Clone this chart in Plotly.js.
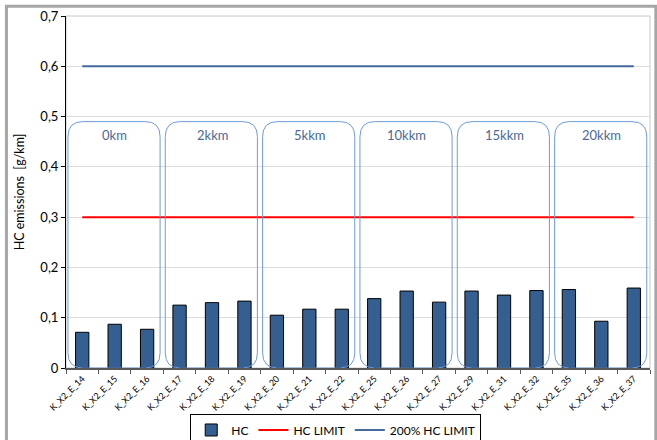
<!DOCTYPE html>
<html>
<head>
<meta charset="utf-8">
<script src="https://cdn.plot.ly/plotly-3.0.1.min.js"></script>
<style>
  html, body { margin: 0; padding: 0; background: #fff; }
  #chart { width: 657px; height: 440px; }
</style>
</head>
<body>
<div id="chart"></div>
<script>
// vehicles (x categories)
var vehicles = ['K_X2_E_14', 'K_X2_E_15', 'K_X2_E_16', 'K_X2_E_17', 'K_X2_E_18', 'K_X2_E_19',
                'K_X2_E_20', 'K_X2_E_21', 'K_X2_E_22', 'K_X2_E_25', 'K_X2_E_26', 'K_X2_E_27',
                'K_X2_E_29', 'K_X2_E_31', 'K_X2_E_32', 'K_X2_E_35', 'K_X2_E_36', 'K_X2_E_37'];
// HC emissions [g/km]
var hcValues = [0.071, 0.087, 0.077, 0.125, 0.130, 0.133,
                0.105, 0.117, 0.117, 0.138, 0.153, 0.131,
                0.153, 0.145, 0.154, 0.156, 0.093, 0.159];
var hcLimit = 0.3;
var hcLimit200 = 0.6;
// mileage groups, 3 vehicles each
var groupLabels = ['0km', '2kkm', '5kkm', '10kkm', '15kkm', '20kkm'];
var groupSize = 3;
var groupBoxTop = 0.49;

var barColor = '#355f91';
var limitColor = '#ff0000';
var limit200Color = '#44699b';
var boxColor = '#6f9cd8';

function flat(v) { return vehicles.map(function(){ return v; }); }

var traceHC = {
    type: 'bar',
    x: vehicles,
    y: hcValues,
    name: 'HC',
    width: 0.41,
    marker: { color: barColor, line: { color: '#000000', width: 1 } }
};
var traceLimit = {
    type: 'scatter',
    mode: 'lines',
    x: vehicles,
    y: flat(hcLimit),
    name: 'HC LIMIT',
    line: { color: limitColor, width: 2 }
};
var traceLimit200 = {
    type: 'scatter',
    mode: 'lines',
    x: vehicles,
    y: flat(hcLimit200),
    name: '200% HC LIMIT',
    line: { color: limit200Color, width: 2 }
};

// rounded group boxes
function roundedBox(x0, x1, y0, y1, rx, ry) {
    return 'M' + (x0 + rx) + ',' + y0 +
        ' L' + (x1 - rx) + ',' + y0 +
        ' Q' + x1 + ',' + y0 + ' ' + x1 + ',' + (y0 + ry) +
        ' L' + x1 + ',' + (y1 - ry) +
        ' Q' + x1 + ',' + y1 + ' ' + (x1 - rx) + ',' + y1 +
        ' L' + (x0 + rx) + ',' + y1 +
        ' Q' + x0 + ',' + y1 + ' ' + x0 + ',' + (y1 - ry) +
        ' L' + x0 + ',' + (y0 + ry) +
        ' Q' + x0 + ',' + y0 + ' ' + (x0 + rx) + ',' + y0 + ' Z';
}

var shapes = [
    // outer frame
    { type: 'rect', xref: 'paper', yref: 'paper', x0: -0.102, x1: 1.01, y0: -0.3, y1: 1.028,
      line: { color: '#a6a6a6', width: 3 }, layer: 'below' },
    // plot area border
    { type: 'rect', xref: 'paper', yref: 'paper', x0: 0, x1: 1, y0: 0, y1: 1,
      line: { color: '#c8c8c8', width: 1 }, layer: 'below' }
];
var annotations = [];
groupLabels.forEach(function(lbl, k) {
    var start = k * groupSize;
    shapes.push({
        type: 'path', xref: 'x', yref: 'y',
        path: roundedBox(start - 0.44, start + groupSize - 0.6, 0, groupBoxTop, 0.46, 0.03),
        line: { color: boxColor, width: 1 },
        layer: 'above'
    });
    annotations.push({
        x: start + (groupSize - 1) / 2, y: 0.464, xref: 'x', yref: 'y',
        text: lbl, showarrow: false,
        font: { family: 'Lato, sans-serif', size: 13, color: '#4a6994' }
    });
});

var layout = {
    width: 657,
    height: 440,
    margin: { l: 66, r: 7, t: 16, b: 72, autoexpand: false },
    paper_bgcolor: '#ffffff',
    plot_bgcolor: 'rgba(0,0,0,0)',
    separators: ', ',
    font: { family: 'Lato, sans-serif', color: '#000000' },
    showlegend: true,
    legend: {
        orientation: 'h',
        xref: 'container', yref: 'container',
        x: 0.511, xanchor: 'center',
        y: 0.058, yanchor: 'top',
        bordercolor: '#000000', borderwidth: 1,
        bgcolor: '#ffffff',
        font: { size: 12 },
        traceorder: 'normal',
        itemwidth: 30,
        tracegroupgap: 0
    },
    xaxis: {
        type: 'category',
        range: [-0.5, 17.5],
        automargin: false,
        tickson: 'boundaries',
        ticks: 'outside', ticklen: 4, tickcolor: '#595959',
        showline: true, linecolor: '#595959', linewidth: 2,
        showgrid: false,
        tickangle: -45,
        tickfont: { size: 9, color: '#000000' }
    },
    yaxis: {
        range: [0, 0.7],
        dtick: 0.1,
        automargin: false,
        ticks: 'outside', ticklen: 4, tickcolor: '#000000',
        showline: true, linecolor: '#000000', linewidth: 1,
        gridcolor: '#dcdcdc',
        zeroline: false,
        tickfont: { size: 13, color: '#000000' },
        title: { text: 'HC emissions  [g/km]', font: { size: 12.5 }, standoff: 12 }
    },
    bargap: 0.59,
    shapes: shapes,
    annotations: annotations
};

Plotly.newPlot('chart', [traceHC, traceLimit, traceLimit200], layout, { displayModeBar: false });
</script>
</body>
</html>
